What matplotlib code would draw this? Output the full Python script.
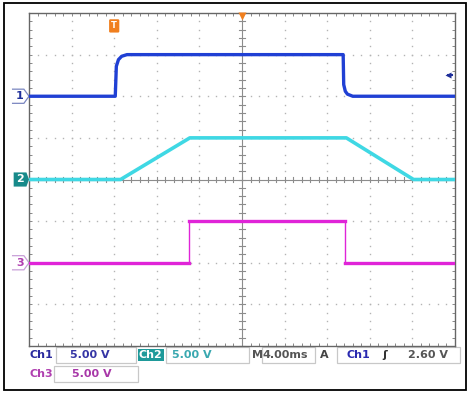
import numpy as np
import matplotlib.pyplot as plt
from matplotlib.patches import Polygon, Rectangle, FancyBboxPatch

# Scope settings
ms_per_div = 4.0
v_per_div = 5.0
t_left = -20.0  # ms at left edge of screen
ch_offset = {"Ch1": 6.0, "Ch2": 4.0, "Ch3": 2.0}  # divisions from bottom
trig_level = 2.60  # V on Ch1
trig_time = -12.0  # ms

# Waveforms (time in ms, voltage in V)
ch1_t = [-20.0, -11.9, -11.8, -11.6, -11.3, -10.8, 9.5, 9.55, 9.7, 9.9, 10.4, 20.0]
ch1_v = [0.0, 0.0, 3.6, 4.4, 4.8, 5.0, 5.0, 1.4, 0.6, 0.25, 0.0, 0.0]
ch2_t = [-20.0, -11.4, -4.9, 9.8, 16.1, 20.0]
ch2_v = [0.0, 0.0, 5.0, 5.0, 0.0, 0.0]
ch3_t = [-20.0, -5.0, -5.0, 9.7, 9.7, 20.0]
ch3_v = [0.0, 0.0, 5.0, 5.0, 0.0, 0.0]

c1 = "#2040d4"
c2 = "#3fd8e4"
c3 = "#e024d8"


def to_div(t, v, ch):
    x = (np.asarray(t) - t_left) / ms_per_div
    y = np.asarray(v) / v_per_div + ch_offset[ch]
    return x, y


W, H = 474, 397
fig = plt.figure(figsize=(W / 100, H / 100), dpi=100)

# overlay in pixel coordinates for frame and readouts
ov = fig.add_axes([0, 0, 1, 1])
ov.set_xlim(0, W)
ov.set_ylim(H, 0)
ov.axis("off")
ov.add_patch(Rectangle((4, 3), 462, 387, fill=False, ec="black", lw=1.3))

# graticule axes
gl, gt, gr, gb = 29, 13, 455, 346
ax = fig.add_axes([gl / W, (H - gb) / H, (gr - gl) / W, (gb - gt) / H])
ax.set_xlim(0, 10)
ax.set_ylim(0, 8)
ax.patch.set_alpha(0)
for s in ax.spines.values():
    s.set_color("#666666")
    s.set_linewidth(1.0)
ax.set_xticks(np.arange(0, 10.01, 0.2))
ax.set_yticks(np.arange(0, 8.01, 0.2))
ax.tick_params(direction="in", length=2.5, width=0.7, color="#888888",
               top=True, right=True, labelbottom=False, labelleft=False)

grid_col = "#b4b4b4"
dots = np.arange(0, 8.01, 0.2)
for i in range(1, 10):
    if i != 5:
        ax.plot(np.full_like(dots, i), dots, ls="none", marker="s", ms=1.0,
                mec="none", mfc=grid_col)
dots = np.arange(0, 10.01, 0.2)
for j in range(1, 8):
    if j != 4:
        ax.plot(dots, np.full_like(dots, j), ls="none", marker="s", ms=1.0,
                mec="none", mfc=grid_col)

# center crosshair with ticks
ax.axvline(5, color="#8c8c8c", lw=0.8)
ax.axhline(4, color="#8c8c8c", lw=0.8)
for yy in np.arange(0, 8.01, 0.2):
    ax.plot([4.94, 5.06], [yy, yy], color="#8c8c8c", lw=0.8)
for xx in np.arange(0, 10.01, 0.2):
    ax.plot([xx, xx], [3.93, 4.07], color="#8c8c8c", lw=0.8)

# traces
x, y = to_div(ch2_t, ch2_v, "Ch2")
ax.plot(x, y, color=c2, lw=2.6, solid_joinstyle="round", zorder=5)
x, y = to_div(ch3_t, ch3_v, "Ch3")
ax.plot(x, y, color=c3, lw=1.0, zorder=5)
for k in range(0, len(x) - 1, 2):
    ax.plot(x[k:k + 2], y[k:k + 2], color=c3, lw=2.4, zorder=5)
x, y = to_div(ch1_t, ch1_v, "Ch1")
ax.plot(x, y, color=c1, lw=2.4, solid_joinstyle="round", zorder=6)


# channel ground markers
def outline_marker(ch, col, txtcol):
    yo = ch_offset[ch]
    pts = [(-0.4, yo - 0.17), (-0.12, yo - 0.17), (0, yo), (-0.12, yo + 0.17), (-0.4, yo + 0.17)]
    ax.add_patch(Polygon(pts, closed=False, fill=False, ec=col, lw=0.9, clip_on=False))
    ax.text(-0.22, yo, ch[-1], color=txtcol, fontsize=8, fontweight="bold",
            ha="center", va="center", clip_on=False)


outline_marker("Ch1", "#7a86c0", "#1f2f9a")
outline_marker("Ch3", "#c8a0d8", "#b040b0")
yo = ch_offset["Ch2"]
ax.add_patch(Polygon([(-0.36, yo - 0.17), (-0.06, yo - 0.17), (0, yo), (-0.06, yo + 0.17),
                      (-0.36, yo + 0.17)], closed=True, fc="#178a8a", ec="none", clip_on=False))
ax.text(-0.2, yo, "2", color="white", fontsize=8, fontweight="bold",
        ha="center", va="center", clip_on=False)

# trigger markers
tx = (trig_time - t_left) / ms_per_div
ax.add_patch(FancyBboxPatch((tx - 0.09, 7.56), 0.18, 0.26, boxstyle="round,pad=0.03",
                            fc="#f07f1e", ec="none", clip_on=False, zorder=7))
ax.text(tx, 7.7, "T", color="white", fontsize=6, fontweight="bold",
        ha="center", va="center", zorder=8)
ax.plot([5], [7.93], marker="v", ms=6, color="#f07f1e", mec="none", clip_on=False, zorder=7)
lvl = ch_offset["Ch1"] + trig_level / v_per_div
ax.plot([9.84], [lvl], marker="<", ms=5, color="#1f2f9a", mec="none", zorder=7)
ax.plot([9.84, 9.94], [lvl, lvl], color="#1f2f9a", lw=1.5)

# readouts
fnt = dict(fontsize=8, fontweight="bold", va="center", family="DejaVu Sans")
box_ec = "#c8c8c8"
r1, r2 = 355, 374
ov.text(30, r1, "Ch1", color="#2a2a9e", **fnt)
ov.add_patch(Rectangle((56, r1 - 8), 80, 16, fill=False, ec=box_ec, lw=0.9))
ov.text(70, r1, "5.00 V", color="#3535a5", **fnt)
ov.text(139, r1, "Ch2", color="white", bbox=dict(boxstyle="square,pad=0.1", fc="#1f9a9a", ec="none"), **fnt)
ov.add_patch(Rectangle((166, r1 - 8), 83, 16, fill=False, ec=box_ec, lw=0.9))
ov.text(172, r1, "5.00 V", color="#3aa8b0", **fnt)
ov.text(252, r1, "M", color="#555555", **fnt)
ov.add_patch(Rectangle((262, r1 - 8), 53, 16, fill=False, ec=box_ec, lw=0.9))
ov.text(263, r1, "4.00ms", color="#555555", **fnt)
ov.text(320, r1, "A", color="#444444", **fnt)
ov.add_patch(Rectangle((337, r1 - 8), 123, 16, fill=False, ec=box_ec, lw=0.9))
ov.text(347, r1, "Ch1", color="#2a2ab0", **fnt)
ov.text(382, r1, "\u0283", color="#333333", **fnt)
ov.text(408, r1, "2.60 V", color="#555555", **fnt)
ov.text(30, r2, "Ch3", color="#b040b0", **fnt)
ov.add_patch(Rectangle((54, r2 - 8), 84, 16, fill=False, ec=box_ec, lw=0.9))
ov.text(72, r2, "5.00 V", color="#a838a8", **fnt)

fig.savefig("out.png", dpi=100)
